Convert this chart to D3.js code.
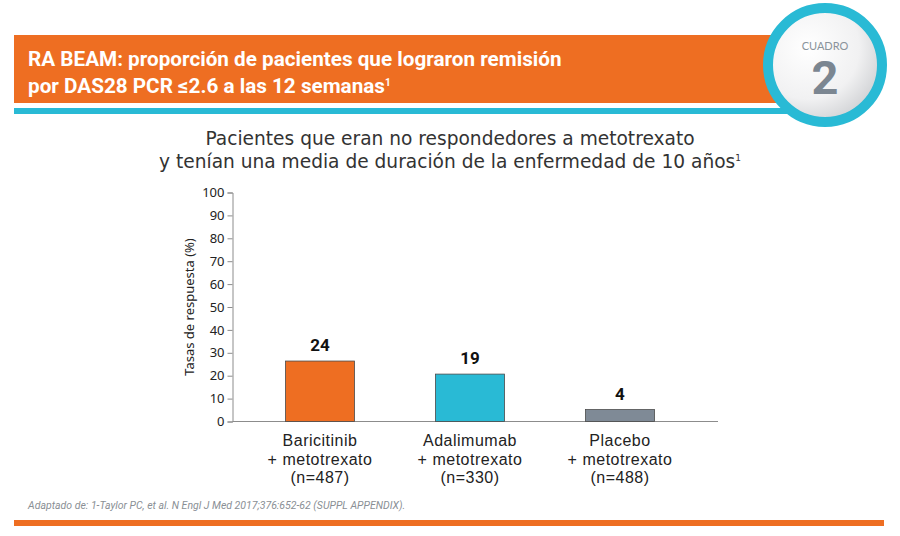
<!DOCTYPE html>
<html>
<head>
<meta charset="utf-8">
<script src="https://cdn.jsdelivr.net/npm/d3@7"></script>
<style>
  body { margin: 0; background: #fff; }
  svg { display: block; }
</style>
</head>
<body>
<script>
var w = 900;
var h = 536;

// data
var categories = ["Baricitinib", "Adalimumab", "Placebo"];
var secondLine = ["+ metotrexato", "+ metotrexato", "+ metotrexato"];
var sampleSizes = ["(n=487)", "(n=330)", "(n=488)"];
var valueLabels = ["24", "19", "4"];
// heights as drawn on the reference (bars sit a bit above their printed values)
var barHeights = [26.4, 20.7, 5.2];
var barColors = ["#ee6e22", "#29bad5", "#7f8a96"];
var yTicks = [0, 10, 20, 30, 40, 50, 60, 70, 80, 90, 100];

var orange = "#ee6e22";
var cyan = "#29bad5";

var svg = d3.select("body").append("svg")
  .attr("width", w)
  .attr("height", h);

var defs = svg.append("defs");
var grad = defs.append("radialGradient")
  .attr("id", "disc")
  .attr("cx", "35%").attr("cy", "35%").attr("r", "75%");
grad.append("stop").attr("offset", "0%").attr("stop-color", "#ffffff");
grad.append("stop").attr("offset", "60%").attr("stop-color", "#f1f1f2");
grad.append("stop").attr("offset", "100%").attr("stop-color", "#c9cbce");

// header band
svg.append("rect")
  .attr("x", 14).attr("y", 35)
  .attr("width", 780).attr("height", 68)
  .attr("fill", orange);
svg.append("rect")
  .attr("x", 14).attr("y", 108)
  .attr("width", 790).attr("height", 6)
  .attr("fill", cyan);

var head = svg.append("text")
  .attr("fill", "#fff")
  .style("font-family", "Roboto, sans-serif")
  .style("font-weight", "700")
  .style("font-size", "20.7px");
head.append("tspan").attr("x", 28).attr("y", 66)
  .text("RA BEAM: proporción de pacientes que lograron remisión");
head.append("tspan").attr("x", 28).attr("y", 93)
  .text("por DAS28 PCR \u22642.6 a las 12 semanas");
head.append("tspan").attr("dy", -7).style("font-size", "10px").text("1");

// badge
svg.append("circle")
  .attr("cx", 825).attr("cy", 65).attr("r", 57)
  .attr("fill", "url(#disc)")
  .attr("stroke", cyan).attr("stroke-width", 10);
svg.append("text")
  .attr("x", 825).attr("y", 50)
  .attr("text-anchor", "middle")
  .attr("fill", "#8a939b")
  .style("font-family", "Lato, sans-serif")
  .style("font-size", "11px")
  .text("CUADRO");
svg.append("text")
  .attr("x", 825).attr("y", 94)
  .attr("text-anchor", "middle")
  .attr("fill", "#7b8691")
  .style("font-family", "Roboto, sans-serif")
  .style("font-weight", "700")
  .style("font-size", "47px")
  .text("2");

// subtitle, one text per line
svg.append("text")
  .attr("x", 450).attr("y", 145)
  .attr("text-anchor", "middle")
  .attr("fill", "#333")
  .style("font-family", "'DejaVu Sans', sans-serif")
  .style("font-size", "18.6px")
  .text("Pacientes que eran no respondedores a metotrexato");
var sub2 = svg.append("text")
  .attr("x", 450).attr("y", 168)
  .attr("text-anchor", "middle")
  .attr("fill", "#333")
  .style("font-family", "'DejaVu Sans', sans-serif")
  .style("font-size", "18.6px");
sub2.append("tspan")
  .text("y tenían una media de duración de la enfermedad de 10 años");
sub2.append("tspan").attr("dy", -7).style("font-size", "9px").text("1");

// scales
var yScale = d3.scaleLinear()
  .domain([0, 100])
  .range([421.5, 192.5]);

var xScale = d3.scalePoint()
  .domain(categories)
  .range([320, 620]);

var barW = 69;

// y axis
var yAxis = d3.axisLeft(yScale)
  .tickValues(yTicks)
  .tickSize(5)
  .tickPadding(3);

var gy = svg.append("g")
  .attr("transform", "translate(232.5,0)")
  .call(yAxis);
gy.select(".domain").attr("stroke", "#8c8c8c");
gy.selectAll(".tick line").attr("stroke", "#8c8c8c");
gy.selectAll(".tick text")
  .attr("fill", "#222")
  .style("font-family", "'Noto Sans', sans-serif")
  .style("font-size", "13px");

// baseline
svg.append("line")
  .attr("x1", 232.5).attr("x2", 718)
  .attr("y1", yScale(0)).attr("y2", yScale(0))
  .attr("stroke", "#8c8c8c");

svg.append("text")
  .attr("transform", "translate(194," + yScale(50) + ") rotate(-90)")
  .attr("text-anchor", "middle")
  .attr("fill", "#222")
  .style("font-family", "'Noto Sans', sans-serif")
  .style("font-size", "13px")
  .text("Tasas de respuesta (%)");

// bars
svg.selectAll("rect.bar")
  .data(categories)
  .join("rect")
  .attr("class", "bar")
  .attr("x", function(d) { return xScale(d) - barW / 2; })
  .attr("y", function(d, i) { return yScale(barHeights[i]); })
  .attr("width", barW)
  .attr("height", function(d, i) { return yScale(0) - yScale(barHeights[i]); })
  .attr("fill", function(d, i) { return barColors[i]; })
  .attr("stroke", "#4a4a4a")
  .attr("stroke-width", 0.8);

svg.selectAll("text.val")
  .data(categories)
  .join("text")
  .attr("class", "val")
  .attr("x", function(d) { return xScale(d); })
  .attr("y", function(d, i) { return yScale(barHeights[i]) - 10; })
  .attr("text-anchor", "middle")
  .attr("fill", "#111")
  .style("font-family", "Roboto, sans-serif")
  .style("font-weight", "700")
  .style("font-size", "17px")
  .text(function(d, i) { return valueLabels[i]; });

// category labels, one text per line
var lines = [categories, secondLine, sampleSizes];
var lineY = [446, 464.5, 483];
lines.forEach(function(arr, k) {
  svg.selectAll("text.cat" + k)
    .data(arr)
    .join("text")
    .attr("class", "cat" + k)
    .attr("x", function(d, i) { return xScale(categories[i]); })
    .attr("y", lineY[k])
    .attr("text-anchor", "middle")
    .attr("fill", "#222")
    .style("font-family", "'Liberation Sans', Arial, sans-serif")
    .style("font-size", "16px")
    .style("letter-spacing", "0.5px")
    .text(function(d) { return d; });
});

// footer
svg.append("text")
  .attr("x", 28).attr("y", 509)
  .attr("fill", "#8a8f95")
  .style("font-family", "'Liberation Sans Narrow', 'Roboto', sans-serif")
  .style("font-style", "italic")
  .style("font-size", "10.5px")
  .text("Adaptado de: 1-Taylor PC, et al. N Engl J Med 2017;376:652-62 (SUPPL APPENDIX).");

svg.append("rect")
  .attr("x", 14).attr("y", 520)
  .attr("width", 870).attr("height", 6)
  .attr("fill", orange);
</script>
</body>
</html>
